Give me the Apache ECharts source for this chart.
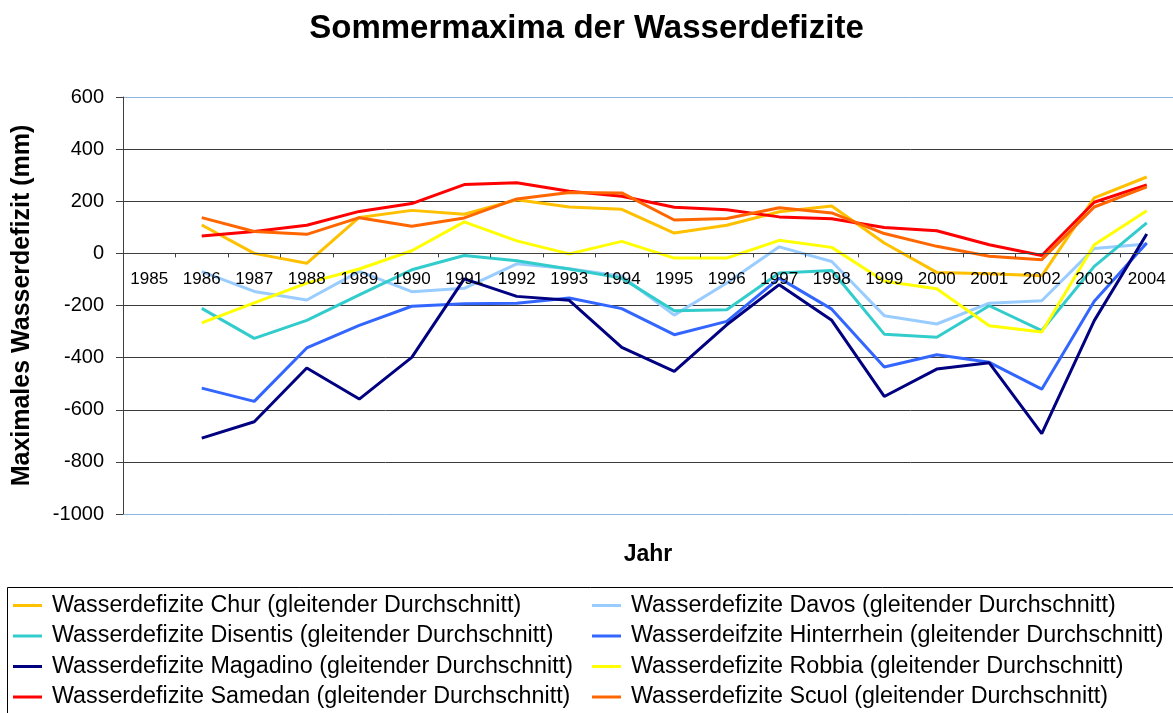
<!DOCTYPE html>
<html>
<head>
<meta charset="utf-8">
<script src="https://cdn.jsdelivr.net/npm/echarts@6/dist/echarts.min.js"></script>
<style>html,body{margin:0;padding:0;background:#fff}#c{width:1173px;height:713px}</style>
</head>
<body>
<div id="c"></div>
<script>
const years = ['1985','1986','1987','1988','1989','1990','1991','1992','1993','1994','1995','1996','1997','1998','1999','2000','2001','2002','2003','2004'];
const chur        = [null, 109, 0, -38, 138, 165, 150, 206, 178, 169, 78, 108, 160, 182, 40, -73, -78, -86, 213, 293];
const davos       = [null, -70, -146, -179, -69, -147, -134, -40, -59, -88, -237, -114, 25, -31, -239, -271, -191, -182, 19, 36];
const disentis    = [null, -211, -326, -257, -159, -63, -8, -28, -60, -95, -220, -216, -75, -66, -310, -322, -201, -296, -50, 117];
const hinterrhein = [null, -517, -568, -363, -276, -203, -193, -191, -171, -212, -312, -261, -95, -214, -436, -389, -418, -521, -184, 40];
const magadino    = [null, -709, -646, -440, -559, -399, -98, -165, -180, -361, -453, -274, -120, -257, -549, -444, -420, -692, -258, 74];
const robbia      = [null, -267, -190, -114, -60, 10, 121, 48, -2, 46, -18, -18, 50, 23, -107, -136, -278, -302, 33, 164];
const samedan     = [null, 67, 84, 108, 161, 191, 264, 271, 238, 219, 177, 167, 140, 133, 99, 87, 33, -8, 196, 263];
const scuol       = [null, 137, 84, 73, 137, 104, 136, 209, 234, 232, 128, 134, 175, 155, 76, 27, -11, -24, 178, 255];
const yTicks = [-1000, -800, -600, -400, -200, 0, 200, 400, 600];

const names = {
  chur: 'Wasserdefizite Chur (gleitender Durchschnitt)',
  davos: 'Wasserdefizite Davos (gleitender Durchschnitt)',
  disentis: 'Wasserdefizite Disentis (gleitender Durchschnitt)',
  hinterrhein: 'Wasserdeifzite Hinterrhein (gleitender Durchschnitt)',
  magadino: 'Wasserdefizite Magadino (gleitender Durchschnitt)',
  robbia: 'Wasserdefizite Robbia (gleitender Durchschnitt)',
  samedan: 'Wasserdefizite Samedan (gleitender Durchschnitt)',
  scuol: 'Wasserdefizite Scuol (gleitender Durchschnitt)'
};
const FONT = '"Liberation Sans", Arial, sans-serif';
function mk(name, data, color) {
  return { name: name, type: 'line', data: data, symbol: 'none', showSymbol: false, z: 2,
    lineStyle: { width: 3, color: color }, itemStyle: { color: color }, connectNulls: false, animation: false };
}
const splitColors = yTicks.map((v, i) => (i === 0 || i === yTicks.length - 1) ? '#8db3e2' : '#3a3a3a');
const legendText = { fontFamily: FONT, fontSize: 23.3, color: '#000', lineHeight: 23, padding: [0, 0, 0, 5] };
const chart = echarts.init(document.getElementById('c'));
chart.setOption({
  animation: false,
  backgroundColor: '#fff',
  title: { text: 'Sommermaxima der Wasserdefizite', left: 'center', top: 7,
    textStyle: { fontFamily: FONT, fontSize: 33, fontWeight: 'bold', color: '#000' } },
  grid: { left: 123, right: 0, top: 97, bottom: 199, containLabel: false, outerBoundsMode: 'none' },
  legend: [
    { orient: 'vertical', left: 13, top: 594, padding: 0, itemWidth: 29, itemHeight: 3, itemGap: 7.5, icon: 'rect',
      textStyle: legendText, data: [names.chur, names.disentis, names.magadino, names.samedan] },
    { orient: 'vertical', left: 592, top: 594, padding: 0, itemWidth: 29, itemHeight: 3, itemGap: 7.5, icon: 'rect',
      textStyle: legendText, data: [names.davos, names.hinterrhein, names.robbia, names.scuol] }
  ],
  graphic: [{ type: 'rect', shape: { x: 7.5, y: 587.5, width: 1200, height: 200 },
    style: { fill: 'none', stroke: '#000', lineWidth: 1 }, silent: true }],
  xAxis: {
    type: 'category', data: years, boundaryGap: true, position: 'bottom', offset: 0, z: 5,
    name: 'Jahr', nameLocation: 'middle', nameGap: 290,
    nameTextStyle: { fontFamily: FONT, fontSize: 23, fontWeight: 'bold', color: '#000' },
    axisLine: { onZero: false, lineStyle: { color: '#404040', width: 1 } },
    axisTick: { show: true, length: 4, lineStyle: { color: '#404040' } },
    axisLabel: { interval: 0, margin: 17, fontFamily: FONT, fontSize: 17, color: '#000' },
    splitLine: { show: false }
  },
  yAxis: {
    type: 'value', min: -1000, max: 600, interval: 200,
    name: 'Maximales Wasserdefizit (mm)', nameLocation: 'middle', nameGap: 88, nameRotate: 90,
    nameTextStyle: { fontFamily: FONT, fontSize: 25, fontWeight: 'bold', color: '#000' },
    axisLine: { show: true, lineStyle: { color: '#404040', width: 1 } },
    axisTick: { show: true, length: 7, lineStyle: { color: '#404040' } },
    axisLabel: { margin: 19, fontFamily: FONT, fontSize: 20, color: '#000', formatter: v => String(v) },
    splitLine: { show: true, lineStyle: { color: splitColors, width: 1 } }
  },
  series: [
    mk(names.chur, chur, '#FFC000'),
    mk(names.davos, davos, '#99CCFF'),
    mk(names.disentis, disentis, '#33CCCC'),
    mk(names.hinterrhein, hinterrhein, '#3366FF'),
    mk(names.magadino, magadino, '#000080'),
    mk(names.robbia, robbia, '#FFFF00'),
    mk(names.samedan, samedan, '#FF0000'),
    mk(names.scuol, scuol, '#FF6600')
  ]
});
// move the category axis up so it crosses the value axis at 0
const yZero = chart.convertToPixel({ yAxisIndex: 0 }, 0);
const yBottom = chart.convertToPixel({ yAxisIndex: 0 }, yTicks[0]);
chart.setOption({ xAxis: { offset: yZero - yBottom } });
</script>
</body>
</html>
